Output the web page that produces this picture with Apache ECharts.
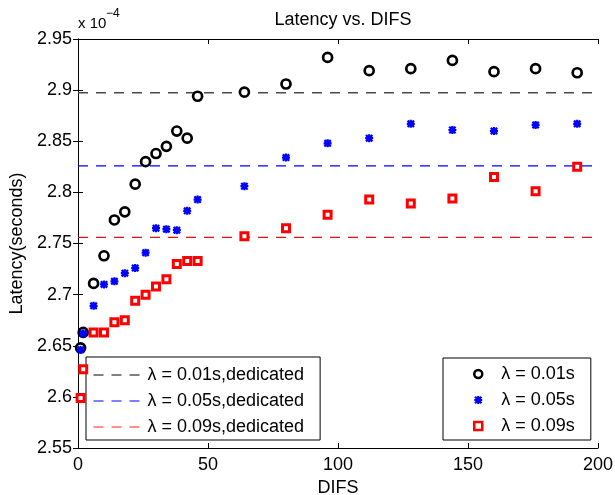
<!DOCTYPE html>
<html>
<head>
<meta charset="utf-8">
<script src="https://cdn.jsdelivr.net/npm/echarts@6/dist/echarts.min.js"></script>
<style>
html,body{margin:0;padding:0;background:#fff;}
#c{width:615px;height:495px;}
</style>
</head>
<body>
<div id="c"></div>
<script>
// DIFS values
var difs = [1, 2, 6, 10, 14, 18, 22, 26, 30, 34, 38, 42, 46, 64, 80, 96, 112, 128, 144, 160, 176, 192];
// Latency (x 10^-4 s)
var lat001 = [2.648, 2.663, 2.711, 2.738, 2.773, 2.781, 2.808, 2.830, 2.838, 2.845, 2.860, 2.853, 2.894, 2.898, 2.906, 2.932, 2.919, 2.921, 2.929, 2.918, 2.921, 2.917];
var lat005 = [2.646, 2.662, 2.689, 2.710, 2.713, 2.721, 2.726, 2.741, 2.765, 2.764, 2.763, 2.782, 2.793, 2.806, 2.834, 2.848, 2.853, 2.867, 2.861, 2.860, 2.866, 2.867];
var lat009 = [2.599, 2.627, 2.663, 2.663, 2.673, 2.675, 2.694, 2.700, 2.708, 2.715, 2.730, 2.733, 2.733, 2.757, 2.765, 2.778, 2.793, 2.789, 2.794, 2.815, 2.801, 2.825];
// Dedicated-case latency
var dedicated = [2.8975, 2.826, 2.756];
var dedicatedNames = ['λ = 0.01s,dedicated', 'λ = 0.05s,dedicated', 'λ = 0.09s,dedicated'];
var scatterNames = ['λ = 0.01s', 'λ = 0.05s', 'λ = 0.09s'];
var xRange = [0, 200];

var FONT = 'Liberation Sans, Arial, Helvetica, sans-serif';
var dashColors = ['#4a4a4a', '#0000ff', '#e81010'];
var legendDashColors = ['#000000', '#0000ff', '#ff2020'];

function pairs(xs, ys) { return xs.map(function (x, i) { return [x, ys[i]]; }); }

var starPath = 'path://M3.6,0L6.4,0L6.4,10L3.6,10Z M0,3.6L10,3.6L10,6.4L0,6.4Z M0,2L2,0L10,8L8,10Z M8,0L10,2L2,10L0,8Z';
var clear = 'rgba(0,0,0,0)';

var series = [];
dedicated.forEach(function (v, i) {
  series.push({
    name: dedicatedNames[i], type: 'line', symbol: 'none', silent: true,
    data: xRange.map(function (x) { return [x, v]; }),
    lineStyle: { color: dashColors[i], width: i === 0 ? 1.5 : 1.2, type: [10, 8] },
    itemStyle: { color: clear, borderColor: clear, borderWidth: 0 }, z: 1
  });
});
series.push({
  name: scatterNames[0], type: 'scatter', data: pairs(difs, lat001),
  symbol: 'circle', symbolSize: 9,
  itemStyle: { color: '#fff', borderColor: '#000', borderWidth: 2.7, opacity: 1 }, z: 3
});
series.push({
  name: scatterNames[1], type: 'scatter', data: pairs(difs, lat005),
  symbol: starPath, symbolSize: 8,
  itemStyle: { color: '#0000ff', opacity: 1 }, z: 4
});
series.push({
  name: scatterNames[2], type: 'scatter', data: pairs(difs, lat009),
  symbol: 'rect', symbolSize: 7,
  itemStyle: { color: '#fff', borderColor: '#ff0000', borderWidth: 3, opacity: 1 }, z: 5
});

var axisCommon = {
  axisLine: { show: true, lineStyle: { color: '#000', width: 1 } },
  axisTick: { show: true, inside: true, length: 5, lineStyle: { color: '#000' } },
  splitLine: { show: false }
};

var legendText = { fontFamily: FONT, fontSize: 18, color: '#000', lineHeight: 20 };

var chart = echarts.init(document.getElementById('c'), null, { renderer: 'canvas' });
chart.setOption({
  animation: false,
  backgroundColor: '#fff',
  title: {
    text: 'Latency vs. DIFS', left: 338, top: 6, textAlign: 'center',
    textStyle: { fontFamily: FONT, fontSize: 18, fontWeight: 'normal', color: '#000' }
  },
  grid: { left: 78, right: 17, top: 39, bottom: 47, containLabel: false, outerBoundsMode: 'none' },
  xAxis: [
    Object.assign({
      type: 'value', min: 0, max: 200, interval: 50, position: 'bottom',
      name: 'DIFS', nameLocation: 'middle', nameGap: 28,
      nameTextStyle: { fontFamily: FONT, fontSize: 18, color: '#000' },
      axisLabel: { fontFamily: FONT, fontSize: 18, color: '#000', margin: 8 }
    }, axisCommon),
    Object.assign({
      type: 'value', min: 0, max: 200, interval: 50, position: 'top',
      axisLabel: { show: false }
    }, axisCommon)
  ],
  yAxis: [
    Object.assign({
      type: 'value', min: 2.55, max: 2.95, interval: 0.05, position: 'left',
      name: 'Latency(seconds)', nameLocation: 'middle', nameGap: 52,
      nameTextStyle: { fontFamily: FONT, fontSize: 18, color: '#000' },
      axisLabel: { fontFamily: FONT, fontSize: 18, color: '#000', margin: 6,
        formatter: function (v) { return String(+v.toFixed(2)); } }
    }, axisCommon),
    Object.assign({
      type: 'value', min: 2.55, max: 2.95, interval: 0.05, position: 'right',
      axisLabel: { show: false }
    }, axisCommon)
  ],
  legend: [
    {
      data: dedicatedNames.map(function (n, i) {
        return { name: n, itemStyle: { color: clear, borderColor: clear, borderWidth: 0 },
                 lineStyle: { color: legendDashColors[i], width: 1 } };
      }),
      orient: 'vertical', left: 86, top: 357,
      backgroundColor: '#fff', borderColor: '#000', borderWidth: 1,
      padding: [8, 16, 3, 7], itemGap: 6, itemWidth: 49, itemHeight: 14,
      selectedMode: false,
      textStyle: legendText
    },
    {
      data: [
        { name: scatterNames[0], itemStyle: { borderWidth: 2.5 } },
        { name: scatterNames[1] },
        { name: scatterNames[2], itemStyle: { borderWidth: 2.5 } }
      ],
      orient: 'vertical', left: 443, top: 358,
      backgroundColor: '#fff', borderColor: '#000', borderWidth: 1,
      padding: [6, 16, 4, 30], itemGap: 6, itemWidth: 8, itemHeight: 8,
      selectedMode: false,
      textStyle: Object.assign({ padding: [0, 0, 0, 14] }, legendText)
    }
  ],
  graphic: [
    { type: 'text', left: 78, top: 16, style: { text: 'x 10', fontFamily: FONT, fontSize: 15, fill: '#000' } },
    { type: 'text', left: 106, top: 8, style: { text: '−4', fontFamily: FONT, fontSize: 12, fill: '#000' } }
  ],
  series: series
});
</script>
</body>
</html>
